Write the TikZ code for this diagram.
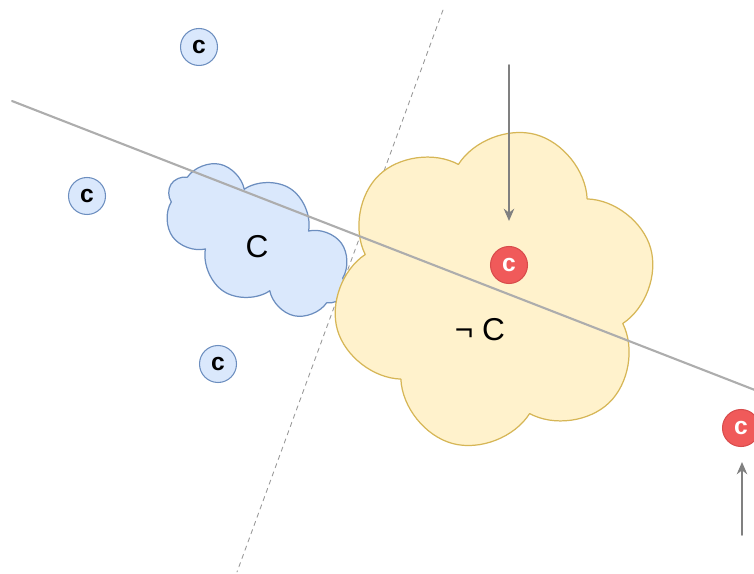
\documentclass[tikz,border=0pt]{standalone}
\usepackage{fontspec}
\setmainfont{Liberation Sans}
\usetikzlibrary{shapes.symbols,arrows.meta}
\definecolor{blueFill}{HTML}{DAE8FC}
\definecolor{blueLine}{HTML}{6C8EBF}
\definecolor{yellowFill}{HTML}{FFF2CC}
\definecolor{yellowLine}{HTML}{D6B656}
\definecolor{redFill}{HTML}{F05A5A}
\definecolor{redLine}{HTML}{D84C4C}
\begin{document}
\begin{tikzpicture}[x=0.02cm,y=-0.02cm,line join=round,line cap=round,>={Stealth[length=7pt,width=6pt]}]
	\tikzset{
		inst/.style={circle,draw=blueLine,fill=blueFill,line width=0.6pt,minimum size=0.74cm,inner sep=0pt,font=\bfseries\fontsize{14}{14}\selectfont},
		hit/.style={circle,draw=redLine,fill=redFill,line width=0.6pt,minimum size=0.74cm,inner sep=0pt,text=white,font=\bfseries\fontsize{14}{14}\selectfont},
		concept/.style={cloud,draw,line width=0.7pt,inner sep=0pt},
		big/.style={font=\fontsize{18}{18}\selectfont},
		probe/.style={->,draw=black!50,line width=0.9pt}
	}
	\useasboundingbox (0,0) rectangle (754,574);
	\draw[black!40,dash pattern=on 2.5pt off 2.5pt,line width=0.5pt] (443,10)--(237,572);
	\node[concept,draw=blueLine,fill=blueFill,cloud puffs=8,cloud puff arc=135,aspect=1.8,minimum width=4.1cm,minimum height=2.45cm,rotate=-33] (c) at (257,240) {};
	\node[concept,draw=yellowLine,fill=yellowFill,cloud puffs=6,cloud puff arc=145,minimum width=6.5cm,minimum height=6.4cm,rotate=-15] (nc) at (494,289) {};
	\node[big] at (257,247) {C};
	\node[big] at (480,330) {¬ C};
	\coordinate (l1) at (12,101);
	\coordinate (l2) at (760,392);
	\draw[black!32,line width=1.2pt] (l1)--(l2);
	\node[inst] (c1) at (199,47) {c};
	\node[inst] (c2) at (87,196) {c};
	\node[inst] (c3) at (218,364) {c};
	\node[hit] (r1) at (509,265) {c};
	\node[hit] (r2) at (741,428) {c};
	\coordinate (a1) at (509,65);
	\coordinate (a2) at (742,535);
	\draw[probe,shorten >=0.5cm] (a1)--(r1);
	\draw[probe,shorten >=0.3cm] (a2)--(r2.south-|a2);
\end{tikzpicture}
\end{document}
